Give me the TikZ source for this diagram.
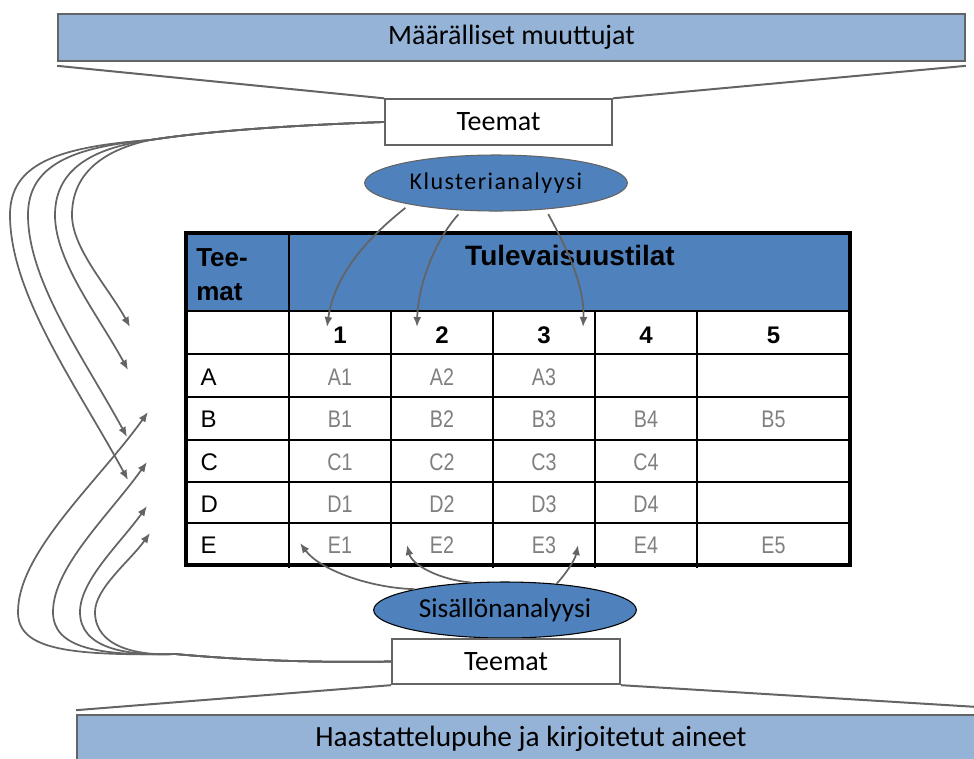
\documentclass[tikz,border=0pt]{standalone}
\usepackage{fontspec}
\setmainfont{Liberation Sans}
\newfontfamily\themefont{Carlito}
\newfontfamily\klufont[LetterSpace=6]{Carlito}
\newfontfamily\narrowfont[FakeStretch=0.82]{Liberation Sans}
\usetikzlibrary{shapes.geometric,arrows.meta}
\definecolor{bandblue}{HTML}{95B3D7}
\definecolor{hdrblue}{HTML}{4F81BD}
\definecolor{edgegray}{HTML}{646464}
\definecolor{cellgray}{HTML}{7F7F7F}
\def\fs#1#2{\fontsize{#1}{#2}\selectfont}
\tikzset{
  band/.style={draw=edgegray,line width=1.5pt,fill=bandblue,minimum height=35pt,font=\themefont\fs{21}{25}},
  theme/.style={draw=edgegray,line width=1.5pt,fill=white,minimum width=170pt,minimum height=34pt,font=\themefont\fs{21}{25}},
  ana/.style={ellipse,fill=hdrblue,minimum width=197pt,minimum height=42pt,line width=0.8pt,inner sep=0pt},
  link/.style={draw=edgegray,line width=1.5pt},
  arr/.style={draw=edgegray,line width=1.3pt,-{Latex[length=7.5pt,width=6pt]}},
  hdr/.style={anchor=base,font=\bfseries\fs{18}{25}},
  rowlab/.style={anchor=base west,font=\fs{18}{22}},
  cell/.style={anchor=base,text=cellgray,font=\narrowfont\fs{18}{22}},
}

\begin{document}
\begin{tikzpicture}[x=0.75pt,y=-0.75pt]
\useasboundingbox (0,0) rectangle (974,758);
% ylhaalla
\node[band,minimum width=680pt] (mvars) at (511.5,37.5) {Määrälliset muuttujat};
\node[theme] (teemat1) at (498.5,122) {Teemat};
\draw[link] ([yshift=-3pt]mvars.south west) -- (teemat1.north west);
\draw[link] ([yshift=-3pt]mvars.south east) -- (teemat1.north east);
\node[ana,draw=edgegray,font=\klufont\fs{18}{20}] (klu) at (496,183) {Klusterianalyysi};

% taulukko
\fill[hdrblue] (186,233) rectangle (850,311);
\foreach \y in {354,397,440,482,523} \draw[line width=1.5pt] (186,\y) -- (850,\y);
\foreach \x in {391,493,595,697} \draw[line width=1.2pt] (\x,311) -- (\x,568);
\draw[line width=1.5pt] (289,233) -- (289,568);
\draw[line width=1.8pt] (186,311) -- (850,311);
\draw[line width=2.4pt] (186,233) rectangle (850,565);
\node[hdr,align=left,anchor=north west,inner sep=0pt,font=\bfseries\fs{19.5}{25.5}] (teemahdr) at (196,248) {Tee-\\mat};
\node[hdr,font=\bfseries\fs{21}{25}] (tila) at (570,265) {Tulevaisuustilat};
\foreach \c/\x in {1/340,2/442,3/544,4/646,5/773.5}
  \node[hdr] (n\c) at (\x,343) {\c};
\foreach \r/\y/\n in {A/385/3,B/427/5,C/470/4,D/512/4,E/553/5}{
  \node[rowlab] (row\r) at (196,\y) {\r};
  \foreach \c/\x in {1/340,2/442,3/544,4/646,5/773.5}{
    \ifnum\c>\n\else\node[cell] (\r\c) at (\x,\y) {\r\c};\fi
  }
}

% alhaalla
\node[ana,draw=black,font=\themefont\fs{20.5}{24}] (sis) at (505,610) {Sisällönanalyysi};
\node[theme,minimum width=171pt] (teemat2) at (506,661.5) {Teemat};
\node[band,minimum width=681pt,font=\themefont\fs{22}{26}] (aineet) at (531,738.5) {Haastattelupuhe ja kirjoitetut aineet};
\draw[link] (teemat2.south west) -- ([yshift=3pt]aineet.north west);
\draw[link] (teemat2.south east) -- ([yshift=5pt]aineet.north east);

% klusterit sarakkeisiin
\coordinate (k1) at (327,327);
\coordinate (k2) at (417,327);
\coordinate (k3) at (583,327);
\draw[arr,shorten <=4pt] (klu.194) .. controls (375,232) and (335,270) .. (k1);
\draw[arr,shorten <=4pt] (klu.219) .. controls (435,240) and (418,285) .. (k2);
\draw[arr,shorten <=4pt] (klu.332) .. controls (565,245) and (585,285) .. (k3);

% sisallot riviin E
\coordinate (s1) at (300,543);
\coordinate (s2) at (407,545);
\coordinate (s3) at (578,545);
\draw[arr] (sis.167) .. controls (370,588) and (320,570) .. (s1);
\draw[arr] (sis.141) .. controls (440,580) and (412,565) .. (s2);
\draw[arr] (sis.27) .. controls (565,575) and (575,560) .. (s3);

% teemat riveille
\foreach \i/\L/\tx/\ty in {1/10/128/480,2/28/127/437,3/55/128/370,4/72/130/327}{
  \coordinate (a\i) at (\tx,\ty);
  \draw[arr] (teemat1.west) .. controls (270,126) and (195,133) .. (150,140)
    .. controls ({\L+45},147) and (\L,165) .. (\L,215)
    .. controls (\L,{215+0.3*(\ty-215)}) and ({\tx-0.19*(\ty-215)},{\ty-0.35*(\ty-215)}) .. (a\i);
}
\foreach \i/\L/\tx/\ty in {1/18/148/412,2/53/147/462,3/80/147/506,4/95/150/533}{
  \coordinate (b\i) at (\tx,\ty);
  \draw[arr] (teemat2.west) .. controls (300,663) and (230,659) .. (175,654)
    .. controls ({\L+45},656) and (\L,648) .. (\L,612)
    .. controls (\L,{612-0.3*(612-\ty)}) and ({\tx-0.25*(612-\ty)},{\ty+0.35*(612-\ty)}) .. (b\i);
}
\end{tikzpicture}
\end{document}
